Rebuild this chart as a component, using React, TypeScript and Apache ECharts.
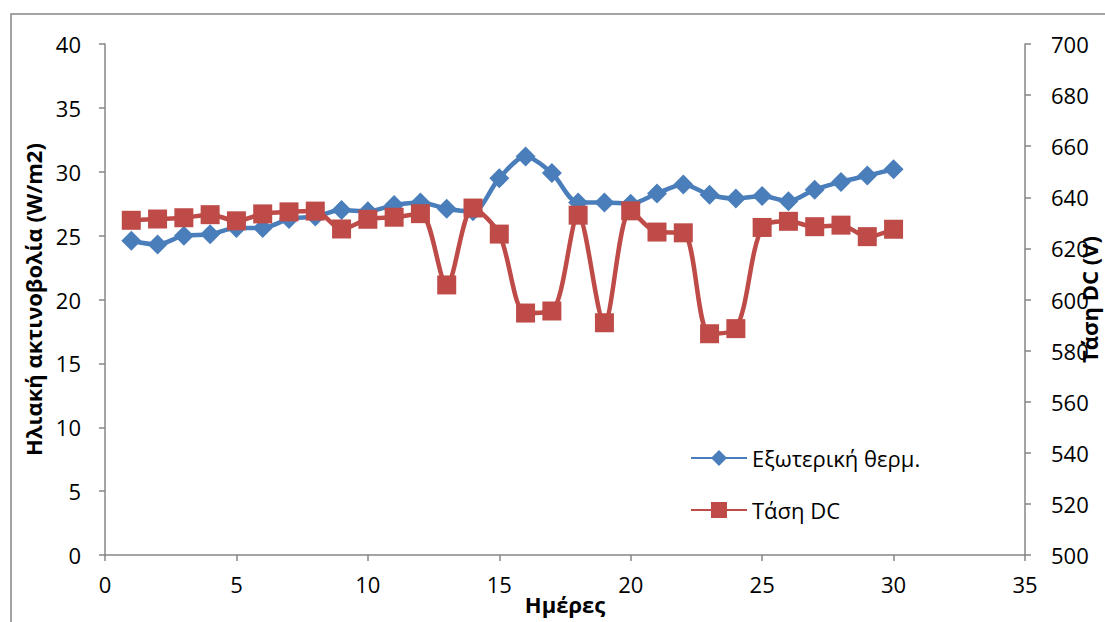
import React, { useEffect, useRef } from "react";
import * as echarts from "echarts";

// Days of the month
const days: number[] = [
  1, 2, 3, 4, 5, 6, 7, 8, 9, 10, 11, 12, 13, 14, 15,
  16, 17, 18, 19, 20, 21, 22, 23, 24, 25, 26, 27, 28, 29, 30,
];

// Outdoor temperature (left axis)
const outdoorTemp: number[] = [
  24.6, 24.3, 25.0, 25.1, 25.6, 25.6, 26.3, 26.5, 27.0, 26.9,
  27.4, 27.6, 27.1, 26.9, 29.5, 31.2, 29.9, 27.6, 27.6, 27.5,
  28.3, 29.0, 28.2, 27.9, 28.1, 27.7, 28.6, 29.2, 29.7, 30.2,
];

// DC voltage (right axis)
const dcVoltage: number[] = [
  631.0, 631.5, 632.0, 633.2, 630.8, 633.5, 634.3, 634.6, 627.6, 631.4,
  632.2, 633.6, 605.7, 635.8, 625.6, 594.7, 595.5, 633.0, 590.9, 634.7,
  626.4, 626.1, 586.6, 588.6, 628.2, 630.6, 628.5, 629.1, 624.6, 627.5,
];

const seriesNames: string[] = ["Εξωτερική θερμ.", "Τάση DC"];
const xTitle = "Ημέρες";
const leftTitle = "Ηλιακή ακτινοβολία (W/m2)";
const rightTitle = "Τάση DC (V)";

const FONT = "'Open Sans', 'Noto Sans', sans-serif";
const AXIS_GRAY = "#868686";
const BLUE = "#4a7ebb";
const RED = "#be4b48";

export default function App() {
  const ref = useRef<HTMLDivElement>(null);

  useEffect(() => {
    if (!ref.current) return;
    const chart = echarts.init(ref.current, null, { renderer: "svg" });

    const axisCommon = {
      nameMoveOverlap: false,
      axisLine: { show: true, lineStyle: { color: AXIS_GRAY, width: 1.5 } },
      axisTick: { show: true, inside: false, length: 6, lineStyle: { color: AXIS_GRAY, width: 1.5 } },
      splitLine: { show: false },
      axisLabel: { color: "#000", fontSize: 22, fontFamily: FONT },
      nameTextStyle: { color: "#000", fontSize: 22, fontWeight: "bold" as const, fontFamily: FONT },
    };

    chart.setOption({
      animation: false,
      backgroundColor: "#fff",
      textStyle: { fontFamily: FONT },
      graphic: [
        {
          type: "rect",
          shape: { x: 11, y: 14, width: 1200, height: 700 },
          style: { fill: "none", stroke: AXIS_GRAY, lineWidth: 1.5 },
          silent: true,
        },
      ],
      grid: { left: 105, right: 80, top: 44, bottom: 67, outerBoundsMode: "none" },
      legend: {
        orient: "vertical",
        left: 685,
        top: 442,
        itemWidth: 56,
        itemHeight: 20,
        itemGap: 30,
        textStyle: { color: "#000", fontSize: 22, fontFamily: FONT },
        data: seriesNames,
      },
      xAxis: {
        type: "value",
        min: 0,
        max: 35,
        interval: 5,
        name: xTitle,
        nameLocation: "middle",
        nameGap: 38,
        ...axisCommon,
        axisLabel: { ...axisCommon.axisLabel, margin: 18 },
      },
      yAxis: [
        {
          type: "value",
          position: "left",
          min: 0,
          max: 40,
          interval: 5,
          name: leftTitle,
          nameLocation: "middle",
          nameGap: 61,
          ...axisCommon,
          axisLabel: { ...axisCommon.axisLabel, margin: 24 },
        },
        {
          type: "value",
          position: "right",
          min: 500,
          max: 700,
          interval: 20,
          name: rightTitle,
          nameLocation: "middle",
          nameRotate: 90,
          nameGap: 53,
          ...axisCommon,
          axisLabel: { ...axisCommon.axisLabel, margin: 26 },
        },
      ],
      series: [
        {
          name: seriesNames[0],
          type: "line",
          yAxisIndex: 0,
          data: days.map((d, i) => [d, outdoorTemp[i]]),
          smooth: 0.3,
          symbol: "diamond",
          symbolSize: 20,
          color: BLUE,
          lineStyle: { color: BLUE, width: 4.5 },
          itemStyle: { color: BLUE },
          z: 2,
        },
        {
          name: seriesNames[1],
          type: "line",
          yAxisIndex: 1,
          data: days.map((d, i) => [d, dcVoltage[i]]),
          smooth: 0.3,
          symbol: "rect",
          symbolSize: 19,
          color: RED,
          lineStyle: { color: RED, width: 4.5 },
          itemStyle: { color: RED },
          z: 3,
        },
      ],
    });

    return () => chart.dispose();
  }, []);

  return (
    <div
      ref={ref}
      style={{ position: "fixed", left: 0, top: 0, width: 1105, height: 622 }}
    />
  );
}
